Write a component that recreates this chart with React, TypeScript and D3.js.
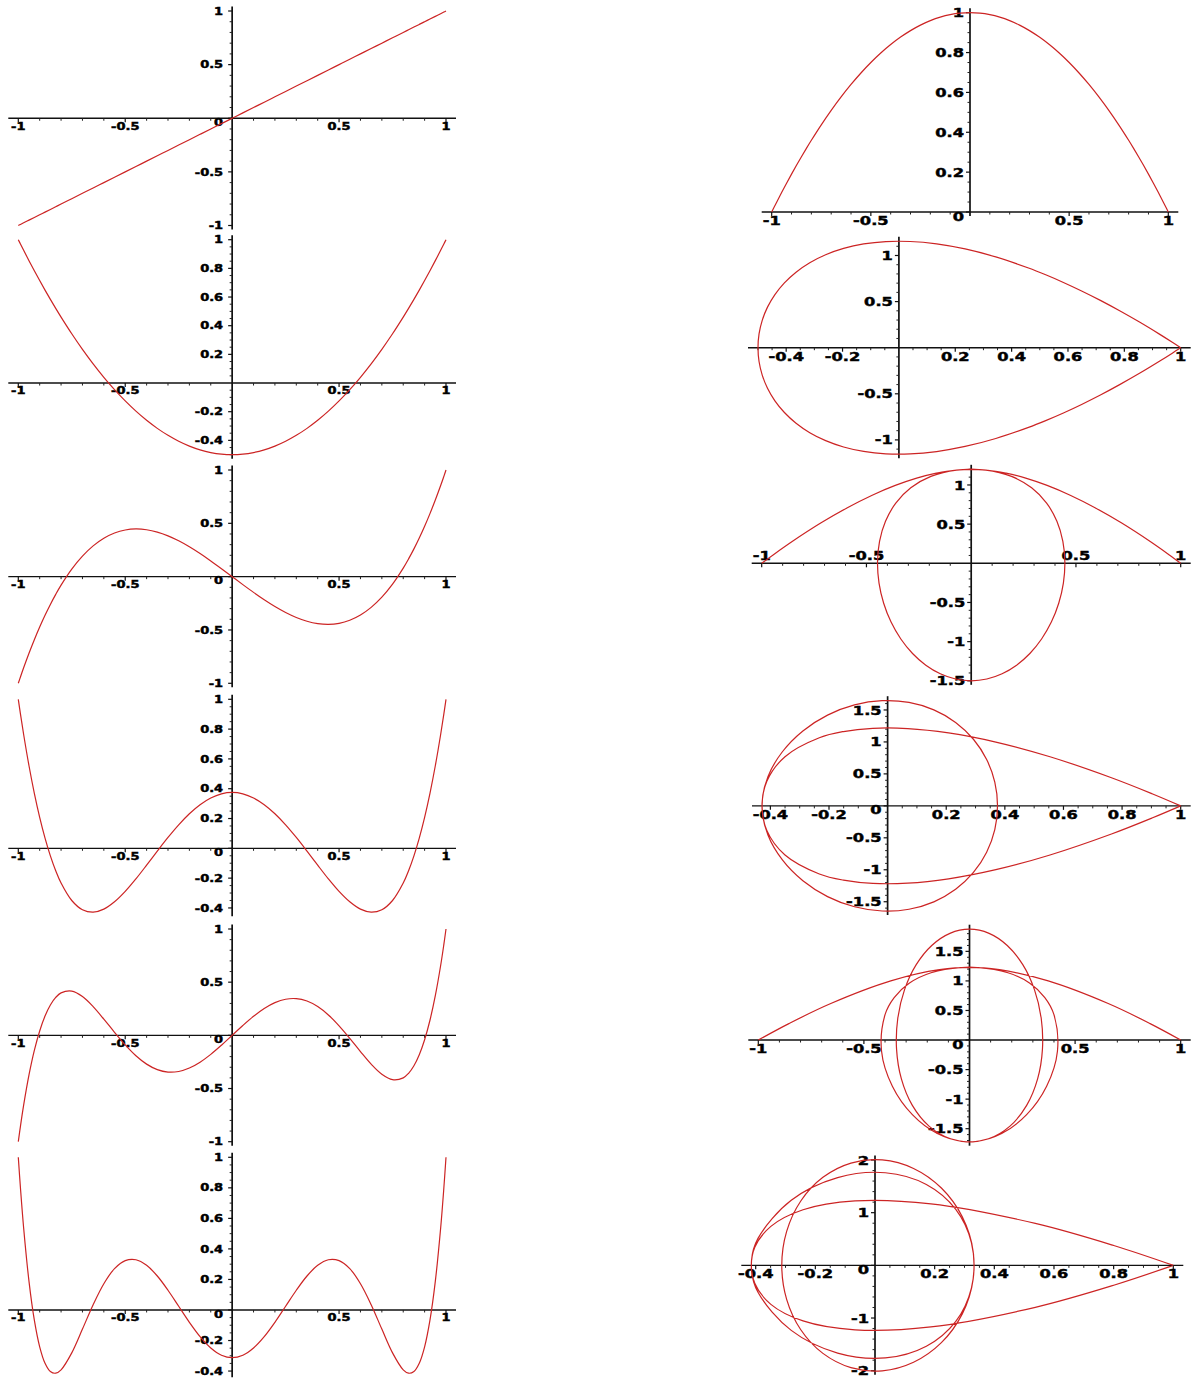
import React from "react";
import * as d3 from "d3";

// parameter values t, shared by the left curves (t, Pn) and the right curves (Pn, Qn)
const tVals = [-1, -0.99, -0.975, -0.95, -0.925, -0.9, -0.875, -0.85, -0.825, -0.8, -0.75, -0.7, -0.65, -0.6, -0.55, -0.5, -0.45, -0.4, -0.35, -0.3, -0.25, -0.2, -0.15, -0.1, -0.05, 0, 0.05, 0.1, 0.15, 0.2, 0.25, 0.3, 0.35, 0.4, 0.45, 0.5, 0.55, 0.6, 0.65, 0.7, 0.75, 0.8, 0.825, 0.85, 0.875, 0.9, 0.925, 0.95, 0.975, 0.99, 1];

// left column curves (heights at each t)
const p1 = [...tVals];
const p2 = [1, 0.9702, 0.9259, 0.8538, 0.7834, 0.715, 0.6484, 0.5838, 0.5209, 0.46, 0.3438, 0.235, 0.1338, 0.04, -0.0463, -0.125, -0.1963, -0.26, -0.3163, -0.365, -0.4063, -0.44, -0.4663, -0.485, -0.4963, -0.5, -0.4963, -0.485, -0.4663, -0.44, -0.4063, -0.365, -0.3163, -0.26, -0.1963, -0.125, -0.0463, 0.04, 0.1338, 0.235, 0.3438, 0.46, 0.5209, 0.5838, 0.6484, 0.715, 0.7834, 0.8538, 0.9259, 0.9702, 1];
const p3 = [-1, -0.9407, -0.8546, -0.7184, -0.5911, -0.4725, -0.3623, -0.2603, -0.1663, -0.08, 0.0703, 0.1925, 0.2884, 0.36, 0.4091, 0.4375, 0.4472, 0.44, 0.4178, 0.3825, 0.3359, 0.28, 0.2166, 0.1475, 0.0747, 0, -0.0747, -0.1475, -0.2166, -0.28, -0.3359, -0.3825, -0.4178, -0.44, -0.4472, -0.4375, -0.4091, -0.36, -0.2884, -0.1925, -0.0703, 0.08, 0.1663, 0.2603, 0.3623, 0.4725, 0.5911, 0.7184, 0.8546, 0.9407, 1];
const p4 = [1, 0.9022, 0.7638, 0.5541, 0.3693, 0.2079, 0.0685, -0.0506, -0.1506, -0.233, -0.3501, -0.4121, -0.4284, -0.408, -0.359, -0.2891, -0.205, -0.113, -0.0187, 0.0729, 0.1577, 0.232, 0.2928, 0.3379, 0.3657, 0.375, 0.3657, 0.3379, 0.2928, 0.232, 0.1577, 0.0729, -0.0187, -0.113, -0.205, -0.2891, -0.359, -0.408, -0.4284, -0.4121, -0.3501, -0.233, -0.1506, -0.0506, 0.0685, 0.2079, 0.3693, 0.5541, 0.7638, 0.9022, 1];
const p5 = [-1, -0.8552, -0.6567, -0.3727, -0.142, 0.0411, 0.182, 0.2857, 0.3567, 0.3995, 0.4164, 0.3652, 0.2705, 0.1526, 0.0282, -0.0898, -0.1917, -0.2706, -0.3225, -0.3454, -0.3397, -0.3075, -0.2523, -0.1788, -0.0927, 0, 0.0927, 0.1788, 0.2523, 0.3075, 0.3397, 0.3454, 0.3225, 0.2706, 0.1917, 0.0898, -0.0282, -0.1526, -0.2705, -0.3652, -0.4164, -0.3995, -0.3567, -0.2857, -0.182, -0.0411, 0.142, 0.3727, 0.6567, 0.8552, 1];
const p6 = [1, 0.8003, 0.5374, 0.1875, -0.0669, -0.2412, -0.3491, -0.403, -0.414, -0.3918, -0.2808, -0.1253, 0.0347, 0.1721, 0.2708, 0.3232, 0.329, 0.2926, 0.2225, 0.1292, 0.0243, -0.0806, -0.1746, -0.2488, -0.2962, -0.3125, -0.2962, -0.2488, -0.1746, -0.0806, 0.0243, 0.1292, 0.2225, 0.2926, 0.329, 0.3232, 0.2708, 0.1721, 0.0347, -0.1253, -0.2808, -0.3918, -0.414, -0.403, -0.3491, -0.2412, -0.0669, 0.1875, 0.5374, 0.8003, 1];

// right column vertical coordinates (x comes from the p arrays above)
const q1 = [0, 0.0199, 0.0494, 0.0975, 0.1444, 0.19, 0.2344, 0.2775, 0.3194, 0.36, 0.4375, 0.51, 0.5775, 0.64, 0.6975, 0.75, 0.7975, 0.84, 0.8775, 0.91, 0.9375, 0.96, 0.9775, 0.99, 0.9975, 1, 0.9975, 0.99, 0.9775, 0.96, 0.9375, 0.91, 0.8775, 0.84, 0.7975, 0.75, 0.6975, 0.64, 0.5775, 0.51, 0.4375, 0.36, 0.3194, 0.2775, 0.2344, 0.19, 0.1444, 0.0975, 0.0494, 0.0199, 0];
const q2 = [0, -0.0591, -0.1444, -0.2779, -0.4006, -0.513, -0.6152, -0.7076, -0.7905, -0.864, -0.9844, -1.071, -1.1261, -1.152, -1.1509, -1.125, -1.0766, -1.008, -0.9214, -0.819, -0.7031, -0.576, -0.4399, -0.297, -0.1496, 0, 0.1496, 0.297, 0.4399, 0.576, 0.7031, 0.819, 0.9214, 1.008, 1.0766, 1.125, 1.1509, 1.152, 1.1261, 1.071, 0.9844, 0.864, 0.7905, 0.7076, 0.6152, 0.513, 0.4006, 0.2779, 0.1444, 0.0591, 0];
const q3 = [0, 0.1164, 0.278, 0.5137, 0.7099, 0.8693, 0.9943, 1.0875, 1.1512, 1.188, 1.1895, 1.1093, 0.9637, 0.768, 0.5362, 0.2813, 0.015, -0.252, -0.51, -0.7508, -0.9668, -1.152, -1.3013, -1.4108, -1.4775, -1.5, -1.4775, -1.4108, -1.3013, -1.152, -0.9668, -0.7508, -0.51, -0.252, 0.015, 0.2813, 0.5362, 0.768, 0.9637, 1.1093, 1.1895, 1.188, 1.1512, 1.0875, 0.9943, 0.8693, 0.7099, 0.5137, 0.278, 0.1164, 0];
const q4 = [0, -0.1901, -0.4398, -0.7682, -0.9981, -1.1414, -1.2096, -1.2133, -1.1622, -1.0656, -0.769, -0.3838, 0.0399, 0.4608, 0.8464, 1.1719, 1.4198, 1.5792, 1.645, 1.6175, 1.5015, 1.3056, 1.042, 0.7252, 0.3719, 0, -0.3719, -0.7252, -1.042, -1.3056, -1.5015, -1.6175, -1.645, -1.5792, -1.4198, -1.1719, -0.8464, -0.4608, -0.0399, 0.3838, 0.769, 1.0656, 1.1622, 1.2133, 1.2096, 1.1414, 0.9981, 0.7682, 0.4398, 0.1901, 0];
const q5 = [0, 0.278, 0.6174, 0.9999, 1.1898, 1.2248, 1.1387, 0.9611, 0.7183, 0.4331, -0.1891, -0.7821, -1.263, -1.5821, -1.7176, -1.6699, -1.4562, -1.1063, -0.6579, -0.1534, 0.3639, 0.8525, 1.275, 1.6003, 1.8051, 1.875, 1.8051, 1.6003, 1.275, 0.8525, 0.3639, -0.1534, -0.6579, -1.1063, -1.4562, -1.6699, -1.7176, -1.5821, -1.263, -0.7821, -0.1891, 0.4331, 0.7183, 0.9611, 1.1387, 1.2248, 1.1898, 0.9999, 0.6174, 0.278, 0];
const q6 = [0, -0.3773, -0.7965, -1.168, -1.2236, -1.0554, -0.7403, -0.3413, 0.0909, 0.5165, 1.2348, 1.665, 1.7582, 1.5354, 1.0627, 0.4307, -0.2621, -0.9215, -1.4675, -1.8398, -2.0019, -1.9418, -1.6711, -1.2223, -0.6448, 0, 0.6448, 1.2223, 1.6711, 1.9418, 2.0019, 1.8398, 1.4675, 0.9215, 0.2621, -0.4307, -1.0627, -1.5354, -1.7582, -1.665, -1.2348, -0.5165, -0.0909, 0.3413, 0.7403, 1.0554, 1.2236, 1.168, 0.7965, 0.3773, 0];

// tick labels
const xTicksHalf = [-1, -0.5, 0.5, 1];
const xTicksFine = [-0.4, -0.2, 0.2, 0.4, 0.6, 0.8, 1];
const yTicksUnit = [-1, -0.5, 0, 0.5, 1];
const yTicksLow = [-0.4, -0.2, 0, 0.2, 0.4, 0.6, 0.8, 1];
const yTicksL2 = [-0.4, -0.2, 0.2, 0.4, 0.6, 0.8, 1];
const yTicksR1 = [0, 0.2, 0.4, 0.6, 0.8, 1];
const yTicksR2 = [-1, -0.5, 0.5, 1];
const yTicksR3 = [-1.5, -1, -0.5, 0.5, 1];
const yTicksR45 = [-1.5, -1, -0.5, 0, 0.5, 1, 1.5];
const yTicksR6 = [-2, -1, 0, 1, 2];

type Panel = {
  xs: number[];
  ys: number[];
  xDom: [number, number];
  xPx: [number, number];
  yDom: [number, number];
  yPx: [number, number];
  xTicks: number[];
  yTicks: number[];
  xMinor: number;
  yMinor: number;
  big?: boolean;
  labelsAbove?: boolean;
};

const LX: [number, number] = [18.3, 446];

const panels: Panel[] = [
  { xs: tVals, ys: p1, xDom: [-1, 1], xPx: LX, yDom: [-1, 1], yPx: [225.5, 11], xTicks: xTicksHalf, yTicks: yTicksUnit, xMinor: 0.1, yMinor: 0.1 },
  { xs: tVals, ys: p2, xDom: [-1, 1], xPx: LX, yDom: [-0.5, 1], yPx: [454.7, 239.7], xTicks: xTicksHalf, yTicks: yTicksL2, xMinor: 0.1, yMinor: 0.05 },
  { xs: tVals, ys: p3, xDom: [-1, 1], xPx: LX, yDom: [-1, 1], yPx: [683.3, 470], xTicks: xTicksHalf, yTicks: yTicksUnit, xMinor: 0.1, yMinor: 0.1 },
  { xs: tVals, ys: p4, xDom: [-1, 1], xPx: LX, yDom: [-0.4286, 1], yPx: [912.2, 699.3], xTicks: xTicksHalf, yTicks: yTicksLow, xMinor: 0.1, yMinor: 0.05 },
  { xs: tVals, ys: p5, xDom: [-1, 1], xPx: LX, yDom: [-1, 1], yPx: [1141.7, 929], xTicks: xTicksHalf, yTicks: yTicksUnit, xMinor: 0.1, yMinor: 0.1 },
  { xs: tVals, ys: p6, xDom: [-1, 1], xPx: LX, yDom: [-0.4147, 1], yPx: [1373.3, 1157.3], xTicks: xTicksHalf, yTicks: yTicksLow, xMinor: 0.1, yMinor: 0.05 },
  { xs: p1, ys: q1, xDom: [-1, 1], xPx: [771.7, 1168.3], yDom: [0, 1], yPx: [212, 12.7], xTicks: xTicksHalf, yTicks: yTicksR1, xMinor: 0.1, yMinor: 0.05, big: true },
  { xs: p2, ys: q2, xDom: [-0.5, 1], xPx: [758, 1180.7], yDom: [-1.155, 1.155], yPx: [454.2, 241.2], xTicks: xTicksFine, yTicks: yTicksR2, xMinor: 0.05, yMinor: 0.1, big: true },
  { xs: p3, ys: q3, xDom: [-1, 1], xPx: [761.7, 1180.7], yDom: [-1.5, 1.2], yPx: [680.8, 469.3], xTicks: xTicksHalf, yTicks: yTicksR3, xMinor: 0.1, yMinor: 0.1, big: true, labelsAbove: true },
  { xs: p4, ys: q4, xDom: [-0.4286, 1], xPx: [762, 1180.7], yDom: [-1.645, 1.645], yPx: [911, 700.7], xTicks: xTicksFine, yTicks: yTicksR45, xMinor: 0.05, yMinor: 0.1, big: true },
  { xs: p5, ys: q5, xDom: [-1, 1], xPx: [758.3, 1180.7], yDom: [-1.72, 1.875], yPx: [1141.7, 929.2], xTicks: xTicksHalf, yTicks: yTicksR45, xMinor: 0.1, yMinor: 0.1, big: true },
  { xs: p6, ys: q6, xDom: [-0.4147, 1], xPx: [751.3, 1173.3], yDom: [-2, 2], yPx: [1370.7, 1160], xTicks: xTicksFine, yTicks: yTicksR6, xMinor: 0.05, yMinor: 0.2, big: true },
];

const FONT = "'DejaVu Sans', sans-serif";
const RED = "#cc2424";

// minor tick positions between the labelled ones
function minorTicks(dom: [number, number], step: number, majors: number[]) {
  const out: number[] = [];
  const k0 = Math.ceil(dom[0] / step - 1e-6);
  const k1 = Math.floor(dom[1] / step + 1e-6);
  for (let k = k0; k <= k1; k++) {
    const v = +(k * step).toFixed(4);
    if (Math.abs(v) < 1e-6) continue;
    if (majors.some((m) => Math.abs(m - v) < 1e-6)) continue;
    out.push(v);
  }
  return out;
}

// bold, horizontally stretched tick label
const Label = ({ x, y, anchor, size, text }: { x: number; y: number; anchor: string; size: number; text: string }) => (
  <text
    transform={`translate(${x},${y}) scale(1.3,1)`}
    textAnchor={anchor}
    fontFamily={FONT}
    fontSize={size}
    fontWeight="bold"
    fill="#000"
    stroke="#000"
    strokeWidth={0.45}
  >
    {text}
  </text>
);

const PlotPanel = ({ p }: { p: Panel }) => {
  const x = d3.scaleLinear().domain(p.xDom).range(p.xPx);
  const y = d3.scaleLinear().domain(p.yDom).range(p.yPx);
  const ax = x(0);
  const ay = y(0);
  const fs = p.big ? 12.5 : 10;
  const capH = fs * 0.73;

  const line = d3
    .line<number>()
    .x((d, i) => x(p.xs[i]))
    .y((d, i) => y(p.ys[i]))
    .curve(d3.curveCatmullRom.alpha(0.5));

  const xMin = minorTicks(p.xDom, p.xMinor, p.xTicks);
  const yMin = minorTicks(p.yDom, p.yMinor, p.yTicks);

  return (
    <g>
      {/* axes */}
      <line x1={x(p.xDom[0]) - 10} x2={x(p.xDom[1]) + 10} y1={ay} y2={ay} stroke="#111" strokeWidth={1.4} />
      <line x1={ax} x2={ax} y1={y(p.yDom[1]) - 4.5} y2={y(p.yDom[0]) + 4} stroke="#111" strokeWidth={1.7} />

      {/* x ticks */}
      {xMin.map((v) => (
        <line key={"xm" + v} x1={x(v)} x2={x(v)} y1={ay} y2={ay + 2.5} stroke="#222" strokeWidth={1} />
      ))}
      {p.xTicks.map((v) => (
        <line key={"xM" + v} x1={x(v)} x2={x(v)} y1={ay} y2={ay + 4} stroke="#111" strokeWidth={1.2} />
      ))}
      {p.xTicks.map((v) => (
        <Label
          key={"xl" + v}
          x={x(v)}
          y={p.labelsAbove ? ay - 3 : ay + 4 + capH}
          anchor="middle"
          size={fs}
          text={String(v)}
        />
      ))}

      {/* y ticks */}
      {yMin.map((v) => (
        <line key={"ym" + v} x1={ax - 2.5} x2={ax} y1={y(v)} y2={y(v)} stroke="#222" strokeWidth={1} />
      ))}
      {p.yTicks.map((v) => (
        <line key={"yM" + v} x1={ax - 4} x2={ax} y1={y(v)} y2={y(v)} stroke="#111" strokeWidth={1.2} />
      ))}
      {p.yTicks.map((v) => (
        <Label
          key={"yl" + v}
          x={ax - (p.big ? 6 : 9)}
          y={y(v) + capH / 2 + (v === 0 ? 4 : 0)}
          anchor="end"
          size={fs}
          text={String(v)}
        />
      ))}

      {/* curve */}
      <path d={line(p.xs) || ""} fill="none" stroke={RED} strokeWidth={1.2} strokeLinejoin="round" />
    </g>
  );
};

const App = () => {
  return (
    <svg
      width={1199}
      height={1380}
      style={{ position: "absolute", left: 0, top: 0, background: "#fff" }}
    >
      <rect x={0} y={0} width={1199} height={1380} fill="#fff" />
      {panels.map((p, i) => (
        <PlotPanel key={i} p={p} />
      ))}
    </svg>
  );
};

export default App;
